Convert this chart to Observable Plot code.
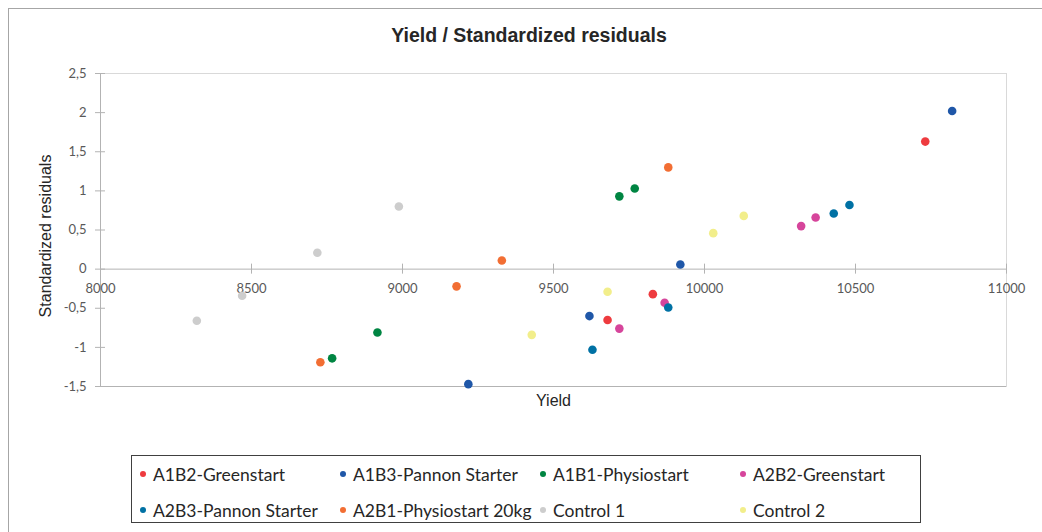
<!DOCTYPE html>
<html>
<head>
<meta charset="utf-8">
<script src="https://cdn.jsdelivr.net/npm/d3@7"></script>
<script src="https://cdn.jsdelivr.net/npm/@observablehq/plot@0.6"></script>
<style>
  body { margin: 0; background: #fff; }
  #chart { position: relative; width: 1042px; height: 532px; overflow: hidden; background: #fff; }
  #frame { position: absolute; left: 8px; top: 8px; width: 1100px; height: 600px;
           border-left: 1px solid #a6a6a6; border-top: 1px solid #a6a6a6; }
  #title { position: absolute; left: 0; top: 24px; width: 1058px; text-align: center;
           font: bold 19.5px "Liberation Sans", Arial, sans-serif; color: #262626; }
  #plot { position: absolute; left: 0; top: 56px; }
  #legend { position: absolute; left: 131px; top: 456px; width: 790px; height: 68px;
            border: 1px solid #404040; box-sizing: border-box;
            display: grid; grid-template-columns: repeat(4, 200px); grid-auto-rows: 36px;
            padding-left: 8px; padding-top: 0px; margin-top: -1px; align-items: center;
            font: 17.5px "Lato", sans-serif; color: #262626; }
  .item { display: flex; align-items: center; white-space: nowrap; }
  .sw { width: 6px; height: 6px; border-radius: 50%; margin-right: 7px; flex: none; }
</style>
</head>
<body>
<div id="chart">
  <div id="frame"></div>
  <div id="title">Yield / Standardized residuals</div>
  <div id="plot"></div>
  <div id="legend"></div>
</div>
<script>
// ---- data ----
const seriesNames = ["A1B2-Greenstart", "A1B3-Pannon Starter", "A1B1-Physiostart", "A2B2-Greenstart",
                     "A2B3-Pannon Starter", "A2B1-Physiostart 20kg", "Control 1", "Control 2"];
const seriesColors = ["#EE3B3F", "#1F57A8", "#008542", "#D6459B", "#0071A4", "#F26E33", "#CDCDCD", "#F2EE8B"];

const yieldA1B2 = [10731, 9829, 9679];
const residA1B2 = [1.63, -0.32, -0.65];
const yieldA1B3 = [10820, 9920, 9619, 9218];
const residA1B3 = [2.02, 0.06, -0.60, -1.47];
const yieldA1B1 = [9769, 9718, 8917, 8767];
const residA1B1 = [1.03, 0.93, -0.81, -1.14];
const yieldA2B2 = [10368, 10320, 9868, 9718];
const residA2B2 = [0.66, 0.55, -0.43, -0.76];
const yieldA2B3 = [10480, 10428, 9880, 9629];
const residA2B3 = [0.82, 0.71, -0.49, -1.03];
const yieldA2B1 = [9880, 9329, 9179, 8728];
const residA2B1 = [1.30, 0.11, -0.22, -1.19];
const yieldC1 = [8988, 8718, 8469, 8319];
const residC1 = [0.80, 0.21, -0.34, -0.66];
const yieldC2 = [10130, 10029, 9679, 9428];
const residC2 = [0.68, 0.46, -0.29, -0.84];

const xTicks = [8000, 8500, 9000, 9500, 10000, 10500, 11000];
const yTicks = [-1.5, -1, -0.5, 0, 0.5, 1, 1.5, 2, 2.5];
const xLabel = "Yield";
const yLabel = "Standardized residuals";

// ---- build table ----
const yields = [yieldA1B2, yieldA1B3, yieldA1B1, yieldA2B2, yieldA2B3, yieldA2B1, yieldC1, yieldC2];
const resids = [residA1B2, residA1B3, residA1B1, residA2B2, residA2B3, residA2B1, residC1, residC2];
const points = [];
seriesNames.forEach((s, i) => yields[i].forEach((v, j) => points.push({series: s, yield: v, resid: resids[i][j]})));

const fmt = d => String(d).replace(".", ",");
const axisGray = "#b3b3b3";
const labelGray = "#595959";

const chart = Plot.plot({
  width: 1042,
  height: 360,
  marginLeft: 100,
  marginRight: 36,
  marginTop: 17,
  marginBottom: 30,
  style: {background: "transparent", fontFamily: "Lato, sans-serif", fontSize: "13px", color: labelGray},
  x: {domain: [xTicks[0], xTicks[xTicks.length - 1]], axis: null},
  y: {domain: [yTicks[0], yTicks[yTicks.length - 1]]},
  color: {domain: seriesNames, range: seriesColors},
  marks: [
    Plot.frame({stroke: "#d9d9d9"}),
    Plot.ruleY([yTicks[0]], {stroke: axisGray}),
    Plot.ruleX([xTicks[0]], {stroke: axisGray}),
    Plot.ruleY([0], {stroke: axisGray}),
    Plot.ruleX(xTicks, {x: d => d, y1: () => 0, y2: () => 0, insetTop: -5, insetBottom: -5, stroke: axisGray}),
    Plot.ruleY(yTicks, {y: d => d, x1: () => xTicks[0], x2: () => xTicks[0], insetLeft: -5, insetRight: -5, stroke: axisGray}),
    Plot.axisY(yTicks, {tickSize: 0, tickPadding: 14, tickFormat: fmt, label: null, fill: labelGray, fontSize: 13}),
    Plot.text(xTicks, {x: d => d, y: () => 0, dy: 20, text: d => String(d), fill: labelGray, fontSize: 13}),
    Plot.text([yLabel], {frameAnchor: "left", rotate: -90, dx: -55, dy: 6, textAnchor: "middle", text: d => d,
      fontFamily: "Liberation Sans, Arial, sans-serif", fontSize: 16, fill: "#262626"}),
    Plot.text([xLabel], {frameAnchor: "bottom", dy: 14, lineAnchor: "middle", text: d => d,
      fontFamily: "Liberation Sans, Arial, sans-serif", fontSize: 16, fill: "#262626"}),
    Plot.dot(points, {x: "yield", y: "resid", fill: "series", r: 4.3})
  ]
});
document.getElementById("plot").appendChild(chart);

// ---- legend ----
const legend = document.getElementById("legend");
seriesNames.forEach((s, i) => {
  const it = document.createElement("div");
  it.className = "item";
  const sw = document.createElement("span");
  sw.className = "sw";
  sw.style.background = seriesColors[i];
  const tx = document.createElement("span");
  tx.textContent = s;
  it.appendChild(sw);
  it.appendChild(tx);
  legend.appendChild(it);
});
</script>
</body>
</html>
